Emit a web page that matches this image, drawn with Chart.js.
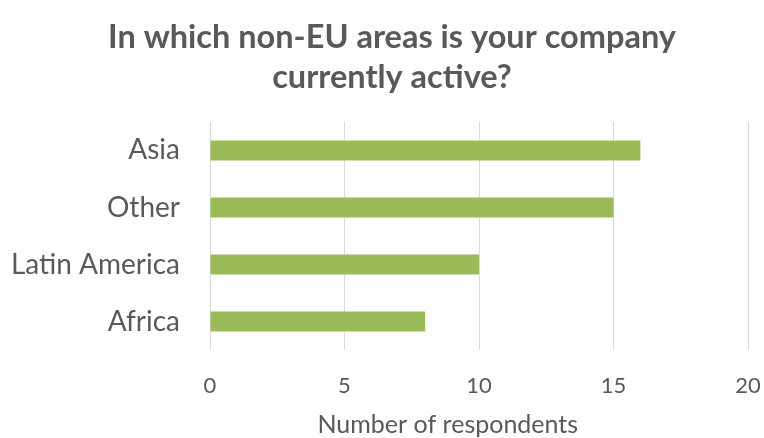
<!DOCTYPE html>
<html>
<head>
<meta charset="utf-8">
<script src="https://cdn.jsdelivr.net/npm/chart.js@4/dist/chart.umd.min.js"></script>
<style>
  html, body { margin: 0; padding: 0; background: #fff; overflow: hidden; width: 764px; height: 438px; }
  #wrap { width: 784px; height: 438px; }
</style>
</head>
<body>
<div id="wrap"><canvas id="chart"></canvas></div>
<script>
const categories = ['Asia', 'Other', 'Latin America', 'Africa'];
const respondents = [16, 15, 10, 8];
const xTicks = [0, 5, 10, 15, 20];
const xTitle = 'Number of respondents';

const textColor = '#595959';

// x axis title sits a little left of the plot centre, as in the original
const axisTitlePlugin = {
    id: 'axisTitle',
    afterDraw(chart) {
        const {ctx, chartArea} = chart;
        ctx.save();
        ctx.fillStyle = textColor;
        ctx.font = '25px Lato';
        ctx.textAlign = 'center';
        ctx.textBaseline = 'middle';
        const x = chartArea.left + (chartArea.right - chartArea.left) * 0.442;
        ctx.fillText(xTitle, x, chartArea.bottom + 75);
        ctx.restore();
    },
};

new Chart(document.getElementById('chart'), {
    type: 'bar',
    data: {
        labels: categories,
        datasets: [{
            data: respondents,
            backgroundColor: '#9BBB59',
            barPercentage: 0.35,
            categoryPercentage: 1.0,
        }],
    },
    plugins: [axisTitlePlugin],
    options: {
        indexAxis: 'y',
        responsive: true,
        maintainAspectRatio: false,
        animation: false,
        layout: {padding: 0},
        plugins: {
            legend: {display: false},
            tooltip: {enabled: false},
            title: {
                display: true,
                text: ['In which non-EU areas is your company', 'currently active?'],
                color: textColor,
                font: {family: 'Lato', size: 32.5, weight: 'bold', lineHeight: 1.23},
                padding: {top: 18, bottom: 24},
            },
        },
        scales: {
            x: {
                min: xTicks[0],
                max: xTicks[xTicks.length - 1],
                afterBuildTicks: (scale) => {
                    scale.ticks = xTicks.map(v => ({value: v}));
                },
                afterFit: (scale) => {
                    scale.height = 88;
                    scale.paddingLeft = 0;
                    scale.paddingRight = 36;
                },
                grid: {color: '#D9D9D9', drawTicks: false},
                border: {display: false},
                ticks: {
                    color: textColor,
                    font: {family: 'Lato', size: 22},
                    padding: 23,
                },
            },
            y: {
                afterFit: (scale) => { scale.width = 210; },
                grid: {display: false, drawTicks: false},
                border: {display: false},
                ticks: {
                    color: textColor,
                    font: {family: 'Lato', size: 28},
                    padding: 30,
                },
            },
        },
    },
});
</script>
</body>
</html>
